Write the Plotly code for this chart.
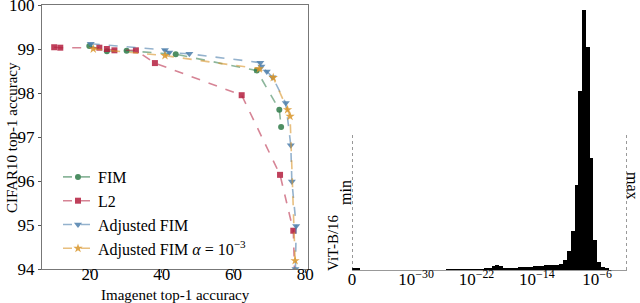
import plotly.graph_objects as go

# ---------------- left panel data ----------------
fim_x = [19.8, 24.7, 30.2, 43.9, 66.5, 72.8, 73.3]
fim_y = [99.07, 98.95, 98.96, 98.88, 98.51, 97.62, 97.23]

l2_x = [10.0, 11.7, 22.6, 24.7, 26.8, 32.8, 38.1, 62.3, 73.0, 76.7, 77.2]
l2_y = [99.04, 99.03, 99.03, 99.0, 98.97, 98.97, 98.68, 97.95, 96.14, 94.87, 93.5]

adj_x = [20.2, 40.9, 42.1, 47.7, 67.5, 67.8, 69.3, 70.9, 74.6, 76.0, 76.3, 77.5, 77.3]
adj_y = [99.12, 98.98, 98.92, 98.89, 98.69, 98.6, 98.49, 98.36, 97.77, 96.81, 95.99, 94.98, 94.0]

adja_x = [20.9, 40.9, 67.2, 71.1, 75.1, 75.8, 77.2, 77.3]
adja_y = [99.0, 98.85, 98.55, 98.35, 97.62, 97.47, 94.19, 93.9]

left_yticks = [94, 95, 96, 97, 98, 99, 100]
left_xticks = [20, 40, 60, 80]

# ---------------- right panel data (log10 magnitude histogram) ----------------
hist_start = -38.5
hist_bin = 0.5
hist_counts = [
    0.008, 0.006,
    0, 0, 0, 0, 0, 0, 0, 0, 0, 0, 0, 0, 0, 0, 0, 0, 0, 0, 0, 0, 0, 0, 0,
    0.003, 0.003, 0.003, 0.003, 0.003, 0.003, 0.003, 0.003, 0.003, 0.003, 0.004,
    0.007, 0.014, 0.02, 0.017, 0.009, 0.007, 0.008, 0.009, 0.01, 0.011, 0.012,
    0.013, 0.015, 0.016, 0.017, 0.018, 0.019, 0.02, 0.021,
    0.023, 0.038, 0.074, 0.151, 0.327, 0.69, 1.0, 0.857, 0.432, 0.115,
    0.032, 0.013, 0.004, 0, 0, 0, 0, 0,
]
hist_centers = [hist_start + hist_bin * (i + 0.5) for i in range(len(hist_counts))]
min_pos = -38.5
max_pos = -2.05
hist_tickvals = [-38.5, -30, -22, -14, -6]
hist_ticktext = ["0", "10<sup>−30</sup>", "10<sup>−22</sup>", "10<sup>−14</sup>", "10<sup>−6</sup>"]

SERIF = "Liberation Serif, Times New Roman, serif"
C_GREEN = "#2e7a48"
C_RED = "#b41f3e"
C_BLUE = "#4d7fab"
C_ORANGE = "#d8952a"
L_GREEN = "rgba(46,122,72,0.55)"
L_RED = "rgba(180,31,62,0.55)"
L_BLUE = "rgba(77,127,171,0.6)"
L_ORANGE = "rgba(216,149,42,0.6)"

fig = go.Figure()

def add_series(x, y, name, mcol, lcol, sym, size):
    fig.add_trace(go.Scatter(
        x=x, y=y, name=name, mode="lines+markers",
        line=dict(color=lcol, width=1.6, dash="dash"),
        marker=dict(color=mcol, symbol=sym, size=size, opacity=0.85,
                    line=dict(width=0)),
        xaxis="x", yaxis="y",
    ))

add_series(fim_x, fim_y, "FIM", C_GREEN, L_GREEN, "circle", 6)
add_series(l2_x, l2_y, "L2", C_RED, L_RED, "square", 6)
add_series(adj_x, adj_y, "Adjusted FIM", C_BLUE, L_BLUE, "triangle-down", 7)
add_series(adja_x, adja_y, "Adjusted FIM <i>α</i> = 10<sup>−3</sup>", C_ORANGE, L_ORANGE, "star", 7)

fig.add_trace(go.Bar(
    x=hist_centers, y=hist_counts, width=hist_bin,
    marker=dict(color="black", line=dict(width=0)),
    xaxis="x2", yaxis="y2", showlegend=False,
))

fig.add_shape(type="line", xref="x2", yref="y2", x0=min_pos, x1=min_pos, y0=0, y1=0.52,
              line=dict(color="#333", width=1, dash="dot"))
fig.add_shape(type="line", xref="x2", yref="y2", x0=max_pos, x1=max_pos, y0=0, y1=0.52,
              line=dict(color="#333", width=1, dash="dot"))

def ann(text, x, y, angle, size=17):
    fig.add_annotation(text=text, xref="paper", yref="paper", x=x / 640, y=(303 - y) / 303,
                       xanchor="center", yanchor="middle", showarrow=False, textangle=angle,
                       font=dict(family=SERIF, size=size, color="black"))

ann("ViT-B/16", 333, 243, -90, 15)
ann("min", 345, 193, -90, 16)
ann("max", 633, 186, 90, 16)
ann("Imagenet top-1 accuracy", 175, 295, 0, 15)
ann("CIFAR10 top-1 accuracy", 12, 138, -90, 15)

axis_common = dict(showgrid=False, zeroline=False, showline=True, linecolor="#777", linewidth=1,
                   mirror=True, ticks="outside", ticklen=3, tickcolor="#555",
                   ticklabeloverflow="allow",
                   tickfont=dict(family=SERIF, size=17, color="black"))

fig.update_layout(
    width=640, height=303, autosize=False,
    margin=dict(l=0, r=0, t=0, b=0),
    paper_bgcolor="white", plot_bgcolor="white",
    font=dict(family=SERIF, size=16, color="black"),
    bargap=0,
    xaxis=dict(domain=[42 / 640, 308 / 640], range=[6.6, 80.8], tickvals=left_xticks,
               automargin=False, ticklabelstandoff=-13, **axis_common),
    yaxis=dict(domain=[(303 - 269) / 303, (303 - 5) / 303], range=[94, 100.0001], tickvals=left_yticks,
               automargin=False, **axis_common),
    xaxis2=dict(domain=[352 / 640, 627 / 640], range=[min_pos, max_pos], anchor="y2",
                tickvals=hist_tickvals, ticktext=hist_ticktext, showgrid=False, zeroline=False,
                showline=True, linecolor="#999", linewidth=1, ticks="", automargin=False,
                ticklabeloverflow="allow", ticklabelstandoff=-6,
                tickfont=dict(family=SERIF, size=17, color="black")),
    yaxis2=dict(domain=[(303 - 270) / 303, (303 - 10) / 303], range=[0, 1.0], anchor="x2",
                visible=False),
    legend=dict(x=58 / 640, y=(303 - 160) / 303, xanchor="left", yanchor="top",
                bgcolor="rgba(0,0,0,0)", font=dict(family=SERIF, size=16, color="black"),
                tracegroupgap=0, itemwidth=30),
)

fig.write_html(
    "out.html",
    config={"responsive": False, "displayModeBar": False},
    post_script="document.body.style.margin='0';document.body.style.padding='0';"
                "document.body.style.overflow='hidden';",
)
